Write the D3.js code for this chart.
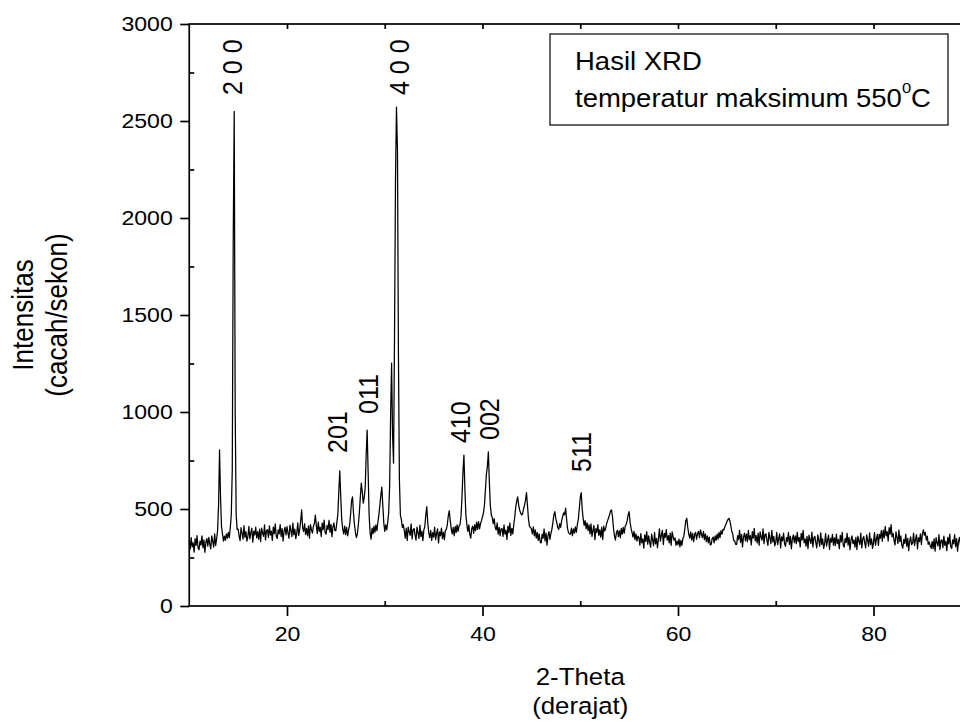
<!DOCTYPE html>
<html><head><meta charset="utf-8">
<script src="https://cdn.jsdelivr.net/npm/d3@7"></script>
<style>
body{margin:0;background:#fff}
svg{display:block}
text{font-family:"Liberation Sans",Arial,Helvetica,sans-serif;fill:#000}
</style>
</head><body>
<svg id="chart" width="960" height="727"></svg>
<script>
// [2-theta (deg), intensity (counts/s)]
const pattern = [
[10.0,334],[10.1,294],[10.2,353],[10.3,305],[10.4,326],[10.5,278],[10.6,347],[10.7,313],[10.8,363],[10.9,299],
[11.0,290],[11.1,335],[11.2,314],[11.3,362],[11.4,300],[11.5,341],[11.6,277],[11.7,328],[11.8,348],[11.9,308],
[12.0,354],[12.1,320],[12.2,295],[12.3,362],[12.4,333],[12.5,303],[12.6,372],[12.7,312],[12.8,345],[12.9,390],
[13.0,520],[13.1,805],[13.2,560],[13.3,410],[13.4,372],[13.5,335],[13.6,360],[13.7,338],[13.8,372],[13.9,348],
[14.0,380],[14.1,352],[14.2,405],[14.3,470],[14.4,700],[14.5,1900],[14.6,2550],[14.7,1000],[14.8,470],[14.9,395],
[15.0,396],[15.1,362],[15.2,337],[15.3,404],[15.4,375],[15.5,345],[15.6,414],[15.7,354],[15.8,383],[15.9,334],
[16.0,359],[16.1,410],[16.2,346],[16.3,377],[16.4,402],[16.5,329],[16.6,386],[16.7,366],[16.8,406],[16.9,351],
[17.0,383],[17.1,345],[17.2,396],[17.3,333],[17.4,402],[17.5,377],[17.6,359],[17.7,418],[17.8,341],[17.9,388],
[18.0,394],[18.1,354],[18.2,413],[18.3,365],[18.4,386],[18.5,338],[18.6,407],[18.7,373],[18.8,423],[18.9,359],
[19.0,348],[19.1,393],[19.2,372],[19.3,420],[19.4,358],[19.5,399],[19.6,335],[19.7,386],[19.8,406],[19.9,366],
[20.0,409],[20.1,375],[20.2,350],[20.3,417],[20.4,388],[20.5,358],[20.6,427],[20.7,367],[20.8,396],[20.9,347],
[21.0,377],[21.1,428],[21.2,364],[21.3,395],[21.4,440],[21.5,495],[21.6,404],[21.7,384],[21.8,424],[21.9,369],
[22.0,400],[22.1,362],[22.2,413],[22.3,350],[22.4,419],[22.5,394],[22.6,376],[22.7,410],[22.8,425],[22.9,469],
[23.0,414],[23.1,374],[23.2,433],[23.3,385],[23.4,406],[23.5,358],[23.6,427],[23.7,393],[23.8,443],[23.9,379],
[24.0,370],[24.1,415],[24.2,394],[24.3,442],[24.4,380],[24.5,421],[24.6,357],[24.7,408],[24.8,428],[24.9,388],
[25.0,390],[25.1,430],[25.2,470],[25.3,590],[25.4,697],[25.5,560],[25.6,445],[25.7,398],[25.8,372],[25.9,412],
[26.0,368],[26.1,405],[26.2,362],[26.3,392],[26.4,415],[26.5,470],[26.6,540],[26.7,563],[26.8,480],[26.9,420],
[27.0,380],[27.1,352],[27.2,372],[27.3,420],[27.4,480],[27.5,560],[27.6,634],[27.7,590],[27.8,530],[27.9,560],
[28.0,610],[28.1,780],[28.2,907],[28.3,690],[28.4,470],[28.5,378],[28.6,345],[28.7,402],[28.8,372],[28.9,412],
[29.0,380],[29.1,418],[29.2,388],[29.3,433],[29.4,470],[29.5,520],[29.6,570],[29.7,613],[29.8,520],[29.9,430],
[30.0,385],[30.1,418],[30.2,392],[30.3,430],[30.4,480],[30.5,620],[30.6,980],[30.7,1252],[30.8,880],[30.9,737],
[31.0,1400],[31.1,2200],[31.2,2572],[31.3,2350],[31.4,1300],[31.5,650],[31.6,469],[31.7,445],[31.8,405],[31.9,420],
[32.0,388],[32.1,350],[32.2,401],[32.3,338],[32.4,407],[32.5,382],[32.6,364],[32.7,423],[32.8,346],[32.9,393],
[33.0,399],[33.1,365],[33.2,340],[33.3,407],[33.4,378],[33.5,348],[33.6,417],[33.7,357],[33.8,386],[33.9,337],
[34.0,392],[34.1,410],[34.2,470],[34.3,512],[34.4,430],[34.5,378],[34.6,352],[34.7,390],[34.8,338],[34.9,378],
[35.0,355],[35.1,406],[35.2,342],[35.3,373],[35.4,398],[35.5,325],[35.6,382],[35.7,362],[35.8,402],[35.9,347],
[36.0,380],[36.1,342],[36.2,390],[36.3,395],[36.4,420],[36.5,465],[36.6,491],[36.7,440],[36.8,398],[36.9,372],
[37.0,405],[37.1,362],[37.2,410],[37.3,378],[37.4,418],[37.5,385],[37.6,412],[37.7,420],[37.8,460],[37.9,560],
[38.0,690],[38.1,778],[38.2,600],[38.3,470],[38.4,420],[38.5,385],[38.6,418],[38.7,368],[38.8,350],[38.9,398],
[39.0,412],[39.1,375],[39.2,420],[39.3,388],[39.4,432],[39.5,395],[39.6,435],[39.7,398],[39.8,425],[39.9,440],
[40.0,460],[40.1,480],[40.2,520],[40.3,600],[40.4,680],[40.5,720],[40.6,795],[40.7,640],[40.8,520],[40.9,470],
[41.0,455],[41.1,425],[41.2,450],[41.3,405],[41.4,392],[41.5,428],[41.6,370],[41.7,405],[41.8,362],[41.9,398],
[42.0,399],[42.1,359],[42.2,418],[42.3,370],[42.4,391],[42.5,343],[42.6,412],[42.7,378],[42.8,428],[42.9,364],
[43.0,400],[43.1,372],[43.2,420],[43.3,460],[43.4,510],[43.5,540],[43.6,563],[43.7,520],[43.8,495],[43.9,480],
[44.0,469],[44.1,475],[44.2,500],[44.3,520],[44.4,545],[44.5,584],[44.6,520],[44.7,450],[44.8,412],[44.9,405],
[45.0,398],[45.1,372],[45.2,408],[45.3,362],[45.4,392],[45.5,350],[45.6,380],[45.7,338],[45.8,372],[45.9,330],
[46.0,325],[46.1,370],[46.2,349],[46.3,397],[46.4,335],[46.5,376],[46.6,314],[46.7,363],[46.8,383],[46.9,343],
[47.0,375],[47.1,395],[47.2,430],[47.3,470],[47.4,486],[47.5,450],[47.6,430],[47.7,405],[47.8,395],[47.9,425],
[48.0,405],[48.1,440],[48.2,460],[48.3,480],[48.4,470],[48.5,505],[48.6,450],[48.7,400],[48.8,378],[48.9,372],
[49.0,370],[49.1,402],[49.2,362],[49.3,398],[49.4,375],[49.5,408],[49.6,380],[49.7,420],[49.8,445],[49.9,500],
[50.0,560],[50.1,584],[50.2,500],[50.3,450],[50.4,415],[50.5,440],[50.6,398],[50.7,428],[50.8,388],[50.9,418],
[51.0,372],[51.1,423],[51.2,359],[51.3,390],[51.4,415],[51.5,342],[51.6,399],[51.7,379],[51.8,419],[51.9,364],
[52.0,393],[52.1,355],[52.2,406],[52.3,343],[52.4,412],[52.5,387],[52.6,400],[52.7,425],[52.8,440],[52.9,455],
[53.0,470],[53.1,490],[53.2,495],[53.3,460],[53.4,400],[53.5,362],[53.6,340],[53.7,378],[53.8,390],[53.9,358],
[54.0,388],[54.1,352],[54.2,400],[54.3,370],[54.4,405],[54.5,375],[54.6,412],[54.7,420],[54.8,440],[54.9,470],
[55.0,486],[55.1,430],[55.2,400],[55.3,378],[55.4,355],[55.5,385],[55.6,342],[55.7,372],[55.8,335],[55.9,360],
[56.0,354],[56.1,314],[56.2,373],[56.3,325],[56.4,346],[56.5,298],[56.6,367],[56.7,333],[56.8,383],[56.9,319],
[57.0,362],[57.1,328],[57.2,303],[57.3,370],[57.4,341],[57.5,311],[57.6,380],[57.7,320],[57.8,349],[57.9,300],
[58.0,347],[58.1,398],[58.2,334],[58.3,365],[58.4,390],[58.5,317],[58.6,374],[58.7,354],[58.8,394],[58.9,339],
[59.0,363],[59.1,325],[59.2,376],[59.3,313],[59.4,382],[59.5,357],[59.6,339],[59.7,350],[59.8,312],[59.9,335],
[60.0,315],[60.1,345],[60.2,305],[60.3,338],[60.4,312],[60.5,348],[60.6,360],[60.7,400],[60.8,440],[60.9,452],
[61.0,405],[61.1,370],[61.2,350],[61.3,382],[61.4,340],[61.5,375],[61.6,332],[61.7,368],[61.8,380],[61.9,345],
[62.0,372],[62.1,385],[62.2,352],[62.3,392],[62.4,370],[62.5,352],[62.6,385],[62.7,342],[62.8,372],[62.9,332],
[63.0,362],[63.1,325],[63.2,355],[63.3,315],[63.4,318],[63.5,348],[63.6,355],[63.7,325],[63.8,362],[63.9,338],
[64.0,370],[64.1,345],[64.2,380],[64.3,352],[64.4,388],[64.5,370],[64.6,395],[64.7,392],[64.8,410],[64.9,420],
[65.0,435],[65.1,445],[65.2,452],[65.3,440],[65.4,415],[65.5,385],[65.6,370],[65.7,338],[65.8,335],[65.9,318],
[66.0,318],[66.1,363],[66.2,342],[66.3,390],[66.4,328],[66.5,369],[66.6,305],[66.7,356],[66.8,376],[66.9,336],
[67.0,371],[67.1,331],[67.2,390],[67.3,342],[67.4,363],[67.5,315],[67.6,384],[67.7,350],[67.8,400],[67.9,336],
[68.0,363],[68.1,325],[68.2,376],[68.3,313],[68.4,382],[68.5,357],[68.6,339],[68.7,398],[68.8,321],[68.9,368],
[69.0,372],[69.1,338],[69.2,313],[69.3,380],[69.4,351],[69.5,321],[69.6,390],[69.7,330],[69.8,359],[69.9,310],
[70.0,329],[70.1,380],[70.2,316],[70.3,347],[70.4,372],[70.5,299],[70.6,356],[70.7,336],[70.8,376],[70.9,321],
[71.0,308],[71.1,353],[71.2,332],[71.3,380],[71.4,318],[71.5,359],[71.6,295],[71.7,346],[71.8,366],[71.9,326],
[72.0,361],[72.1,321],[72.2,380],[72.3,332],[72.4,353],[72.5,305],[72.6,374],[72.7,340],[72.8,390],[72.9,326],
[73.0,346],[73.1,308],[73.2,359],[73.3,296],[73.4,365],[73.5,340],[73.6,322],[73.7,381],[73.8,304],[73.9,351],
[74.0,359],[74.1,325],[74.2,300],[74.3,367],[74.4,338],[74.5,308],[74.6,377],[74.7,317],[74.8,346],[74.9,297],
[75.0,322],[75.1,373],[75.2,309],[75.3,340],[75.4,365],[75.5,292],[75.6,349],[75.7,329],[75.8,369],[75.9,314],
[76.0,351],[76.1,311],[76.2,370],[76.3,322],[76.4,343],[76.5,295],[76.6,364],[76.7,330],[76.8,380],[76.9,316],
[77.0,303],[77.1,348],[77.2,327],[77.3,375],[77.4,313],[77.5,354],[77.6,290],[77.7,341],[77.8,361],[77.9,321],
[78.0,341],[78.1,303],[78.2,354],[78.3,291],[78.4,360],[78.5,335],[78.6,317],[78.7,376],[78.8,299],[78.9,346],
[79.0,359],[79.1,325],[79.2,300],[79.3,367],[79.4,338],[79.5,308],[79.6,377],[79.7,317],[79.8,346],[79.9,297],
[80.0,327],[80.1,378],[80.2,314],[80.3,345],[80.4,370],[80.5,312],[80.6,369],[80.7,349],[80.8,389],[80.9,334],
[81.0,391],[81.1,351],[81.2,410],[81.3,362],[81.4,383],[81.5,335],[81.6,404],[81.7,370],[81.8,420],[81.9,356],
[82.0,374],[82.1,340],[82.2,315],[82.3,382],[82.4,353],[82.5,323],[82.6,392],[82.7,332],[82.8,361],[82.9,312],
[83.0,298],[83.1,343],[83.2,322],[83.3,370],[83.4,308],[83.5,349],[83.6,285],[83.7,336],[83.8,356],[83.9,316],
[84.0,325],[84.1,376],[84.2,312],[84.3,343],[84.4,368],[84.5,295],[84.6,352],[84.7,332],[84.8,372],[84.9,317],
[85.0,370],[85.1,392],[85.2,365],[85.3,380],[85.4,340],[85.5,360],[85.6,318],[85.7,330],[85.8,310],[85.9,297],
[86.0,333],[86.1,295],[86.2,346],[86.3,283],[86.4,352],[86.5,327],[86.6,309],[86.7,368],[86.8,291],[86.9,338],
[87.0,341],[87.1,301],[87.2,360],[87.3,312],[87.4,333],[87.5,285],[87.6,354],[87.7,320],[87.8,370],[87.9,306],
[88.0,296],[88.1,341],[88.2,320],[88.3,368],[88.4,306],[88.5,347],[88.6,283],[88.7,334],[88.8,354],[88.9,314],
[89.0,354],[89.1,320],[89.2,295],[89.3,362],[89.4,333],[89.5,303],[89.6,372],[89.7,312],[89.8,341],[89.9,292],
[90.0,335]
];

const xTickValues = [20, 40, 60, 80];
const xMinorTicks = [30, 50, 70];
const xTopTicks = [20, 30, 40, 50, 60, 70, 80];
const yTickValues = [0, 500, 1000, 1500, 2000, 2500, 3000];
const yMinorTicks = [250, 750, 1250, 1750, 2250, 2750];

const peakText = ["2 0 0", "201", "011", "4 0 0", "410", "002", "511"];
const peakTheta = [15.40, 26.14, 29.31, 32.48, 38.72, 41.69, 51.10];
const peakLabelIntensity = [2634, 789, 990, 2634, 840, 856, 691];

const legendTitle = "Hasil XRD";
const legendLine = "temperatur maksimum 550";
const xTitle = ["2-Theta", "(derajat)"];
const yTitle = ["Intensitas", "(cacah/sekon)"];

const SX = 1.1; // horizontal glyph stretch of the reference
const FONT = "Liberation Sans, Arial, Helvetica, sans-serif";

const svg = d3.select("#chart");
const x = d3.scaleLinear().domain([10, 90]).range([189.25, 971.25]);
const y = d3.scaleLinear().domain([0, 3000]).range([606, 24]);

// data line
svg.append("path")
  .datum(pattern)
  .attr("d", d3.line().x(d => x(d[0])).y(d => y(d[1])))
  .attr("fill", "none")
  .attr("stroke", "#000")
  .attr("stroke-width", 1.25)
  .attr("stroke-linejoin", "round");

// frame
svg.append("rect")
  .attr("x", x(10)).attr("y", y(3000))
  .attr("width", x(90) - x(10)).attr("height", y(0) - y(3000))
  .attr("fill", "none").attr("stroke", "#000").attr("stroke-width", 1.7);

function styleAxis(g) {
  g.attr("font-family", FONT).attr("font-size", 21);
  g.selectAll("line").attr("stroke", "#000").attr("stroke-width", 1.7);
  g.select(".domain").remove();
}

// bottom axis
const gx = svg.append("g").attr("transform", `translate(0,${y(0)})`)
  .call(d3.axisBottom(x).tickValues(xTickValues).tickFormat(d3.format("d")).tickSize(10).tickPadding(10).tickSizeOuter(0))
  .call(styleAxis);
gx.selectAll("text").attr("fill", "#000").attr("transform", `scale(${SX},1)`);

svg.append("g").attr("transform", `translate(0,${y(0)})`)
  .call(d3.axisBottom(x).tickValues(xMinorTicks).tickSize(-5).tickFormat(""))
  .call(styleAxis);

svg.append("g").attr("transform", `translate(0,${y(3000)})`)
  .call(d3.axisTop(x).tickValues(xTopTicks).tickSize(-5).tickFormat(""))
  .call(styleAxis);

// left axis
const gy = svg.append("g").attr("transform", `translate(${x(10)},0)`)
  .call(d3.axisLeft(y).tickValues(yTickValues).tickFormat(d3.format("d")).tickSize(9).tickPadding(6).tickSizeOuter(0))
  .call(styleAxis);
gy.selectAll("text").attr("fill", "#000").attr("transform", `scale(${SX},1)`);

svg.append("g").attr("transform", `translate(${x(10)},0)`)
  .call(d3.axisLeft(y).tickValues(yMinorTicks).tickSize(-5).tickFormat(""))
  .call(styleAxis);

// axis titles
svg.append("text").attr("transform", `translate(${(x(10) + x(90)) / 2},685) scale(${SX},1)`)
  .attr("text-anchor", "middle").attr("font-size", 23.5).text(xTitle[0]);
svg.append("text").attr("transform", `translate(${(x(10) + x(90)) / 2},714) scale(${SX},1)`)
  .attr("text-anchor", "middle").attr("font-size", 23.5).text(xTitle[1]);
svg.append("text").attr("transform", `translate(33,${(y(0) + y(3000)) / 2}) scale(${SX},1) rotate(-90)`)
  .attr("text-anchor", "middle").attr("font-size", 26).text(yTitle[0]);
svg.append("text").attr("transform", `translate(67,${(y(0) + y(3000)) / 2}) scale(${SX},1) rotate(-90)`)
  .attr("text-anchor", "middle").attr("font-size", 26).text(yTitle[1]);

// peak labels
peakText.forEach((t, i) => {
  svg.append("text")
    .attr("transform", `translate(${x(peakTheta[i])},${y(peakLabelIntensity[i])}) scale(${SX},1) rotate(-90)`)
    .attr("text-anchor", "start").attr("font-size", 25)
    .text(t);
});

// legend
svg.append("rect").attr("x", 550).attr("y", 34).attr("width", 398).attr("height", 91)
  .attr("fill", "#fff").attr("stroke", "#000").attr("stroke-width", 1.2);
svg.append("text").attr("transform", `translate(575,70) scale(${SX},1)`)
  .attr("font-size", 25).text(legendTitle);
const lt = svg.append("text").attr("transform", `translate(575,107) scale(${SX},1)`)
  .attr("font-size", 25);
lt.append("tspan").text(legendLine);
lt.append("tspan").attr("font-size", 15).attr("dy", -14).text("0");
lt.append("tspan").attr("dy", 14).text("C");
</script>
</body></html>
